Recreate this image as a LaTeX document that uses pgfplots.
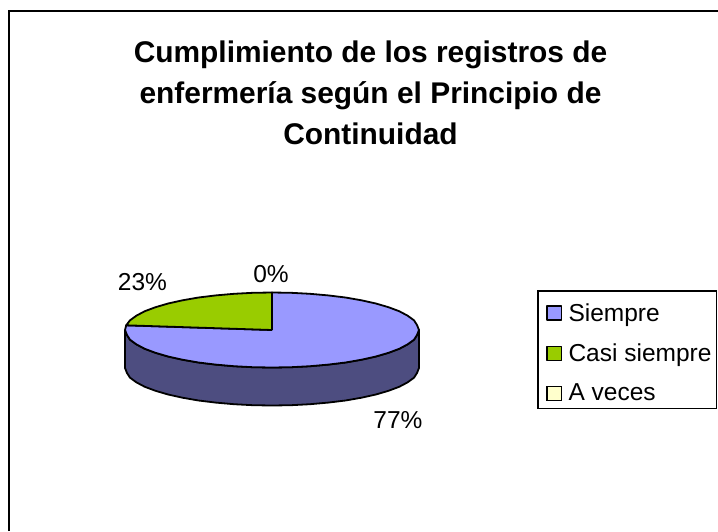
\documentclass[border=0pt]{standalone}
\usepackage{pgfplots}
\pgfplotsset{compat=1.18}
\usepackage{pgfplotstable}
\usepackage{fontspec}
\setmainfont{Liberation Sans}
\definecolor{cS}{HTML}{9999FF}
\definecolor{cC}{HTML}{99CC00}
\definecolor{cA}{HTML}{FFFFCC}
\definecolor{cD}{HTML}{4D4D80}
\begin{document}
\begin{tikzpicture}
\useasboundingbox (0,0) rectangle (718pt,531pt);
\begin{axis}[
  at={(0,0)},anchor=south west,
  width=718pt,height=531pt,scale only axis,
  xmin=0,xmax=718,ymin=0,ymax=531,y dir=reverse,
  hide axis,clip=false,
  legend style={at={(axis cs:537,290)},anchor=north west,draw=black,line width=1.5pt,
    inner xsep=5pt,inner ysep=6pt,row sep=14.5pt,
    font=\fontsize{24.5pt}{25pt}\selectfont,
    nodes={inner sep=0pt,anchor=west},
    minimum height=0pt},
  legend cell align=left,
  legend image code/.code={\path (0pt,15.5pt) (24pt,0pt);\draw[#1,line width=1.5pt,draw=black] (3.5pt,-7pt) rectangle (18pt,7pt);},
]
% frame
\addplot[black,line width=2pt,forget plot] coordinates {(8.5,531) (8.5,10.5) (718,10.5)};
% side wall (lower half of the rim and its copy 38 px below)
\addplot[fill=cD,draw=black,line width=1.8pt,line join=round,forget plot] coordinates {
(125,330)(127,335)(130,339.7)(136.5,344.4)(144.7,348.75)(155.5,352.8)(168.1,356.5)(182.5,359.7)(198.5,362.5)(215.8,364.6)(234,366.2)(253,367.2)(272,367.5)(291,367.2)(310,366.2)(328.2,364.6)(345.5,362.5)(361.5,359.7)(375.9,356.5)(388.5,352.8)(399.3,348.75)(407.5,344.4)(414,339.7)(417,335)(419,330)
(419,368)(417,373)(414,377.7)(407.5,382.4)(399.3,386.75)(388.5,390.8)(375.9,394.5)(361.5,397.7)(345.5,400.5)(328.2,402.6)(310,404.2)(291,405.2)(272,405.5)(253,405.2)(234,404.2)(215.8,402.6)(198.5,400.5)(182.5,397.7)(168.1,394.5)(155.5,390.8)(144.7,386.75)(136.5,382.4)(130,377.7)(127,373)(125,368)(125,330)};
% Siempre 77 %
\addplot[fill=cS,draw=black,line width=1.8pt,line join=round] coordinates {
(272,330)(272,292.5)(291,292.8)(310,293.8)(328.2,295.4)(345.5,297.5)(361.5,300.3)(375.9,303.5)(388.5,307.2)(399.3,311.25)(407.5,315.6)(414,320.3)(417,325)(419,330)(417,335)(414,339.7)(407.5,344.4)(399.3,348.75)(388.5,352.8)(375.9,356.5)(361.5,359.7)(345.5,362.5)(328.2,364.6)(310,366.2)(291,367.2)(272,367.5)(253,367.2)(234,366.2)(215.8,364.6)(198.5,362.5)(182.5,359.7)(168.1,356.5)(155.5,352.8)(144.7,348.75)(136.5,344.4)(130,339.7)(127,335)(125,330)(126.2,325.3)(272,330)};
\addlegendentry{Siempre}
% Casi siempre 23 %
\addplot[fill=cC,draw=black,line width=1.8pt,line join=round] coordinates {
(272,330)(126.2,325.3)(130,320.3)(136.5,315.6)(144.7,311.25)(155.5,307.2)(168.1,303.5)(182.5,300.3)(198.5,297.5)(215.8,295.4)(234,293.8)(253,292.8)(272,292.5)(272,330)};
\addlegendentry{Casi siempre}
% A veces 0 %
\addplot[fill=cA,draw=black,line width=0pt] coordinates {(272,292.5)(272,292.5)};
\addlegendentry{A veces}
\node[font=\fontsize{29.9pt}{41pt}\selectfont\bfseries,align=center,anchor=north] at (axis cs:370.5,37) {Cumplimiento de los registros de\\enfermería según el Principio de\\Continuidad};
\node[font=\fontsize{24.5pt}{24pt}\selectfont] at (axis cs:142.5,282) {23\%};
\node[font=\fontsize{24.5pt}{24pt}\selectfont] at (axis cs:271,274) {0\%};
\node[font=\fontsize{24.5pt}{24pt}\selectfont] at (axis cs:398,420) {77\%};
\end{axis}
\end{tikzpicture}
\end{document}
